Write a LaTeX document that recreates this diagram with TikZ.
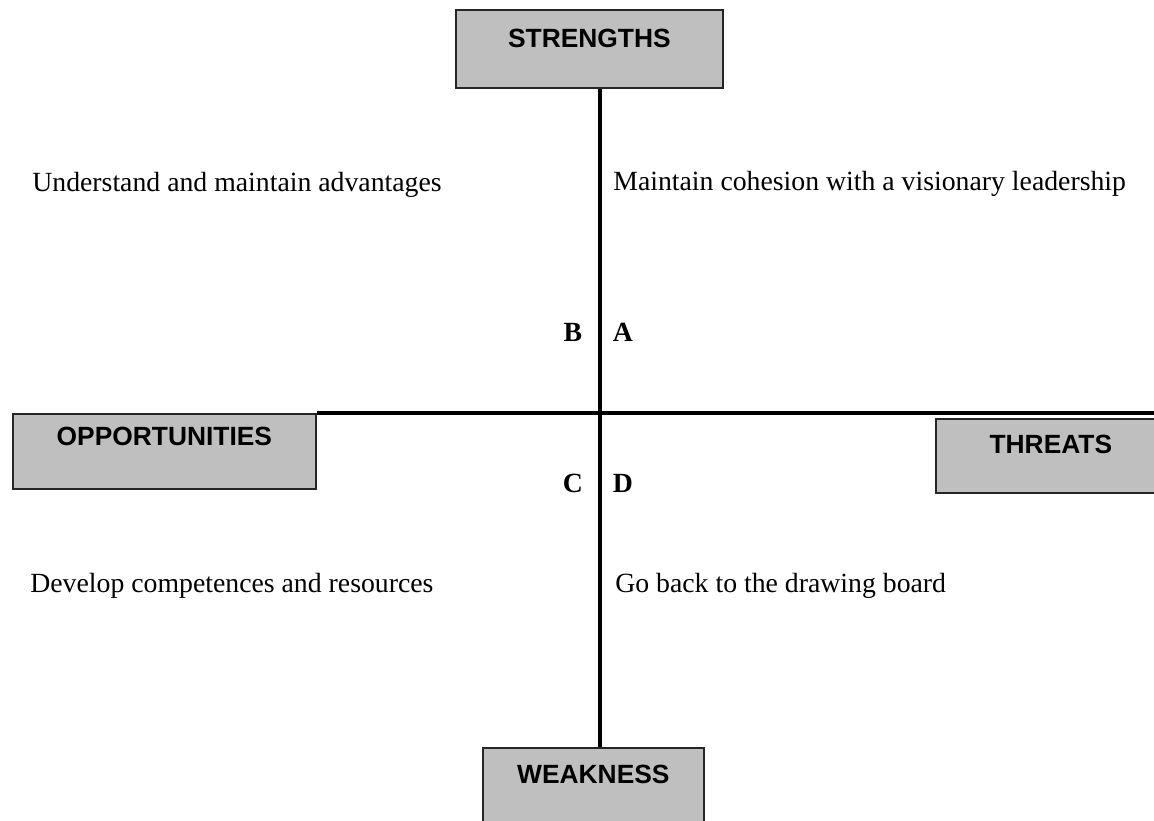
\documentclass[tikz,border=0pt]{standalone}
\usepackage{fontspec}
\setmainfont{Liberation Serif}
\setsansfont{Liberation Sans}

\begin{document}
\begin{tikzpicture}[x=0.02cm, y=-0.02cm,
	swotbox/.style={draw=black!85, line width=1pt, fill=black!25, anchor=north west, inner sep=0pt, font=\sffamily\bfseries\fontsize{15}{18}\selectfont},
	note/.style={anchor=base west, inner sep=0pt, font=\fontsize{15.8}{19}\selectfont},
	quad/.style={anchor=base, inner sep=0pt, font=\bfseries\fontsize{15.8}{19}\selectfont},
	axis/.style={line width=2.2pt}]
	\clip (0, 0) rectangle (1154, 821);
	\node [swotbox, minimum width=5.34cm, text height=0.76cm, text depth=0.80cm] (strengths) at (455, 9) {STRENGTHS};
	\node [swotbox, minimum width=6.06cm, text height=0.64cm, text depth=0.86cm] (opportunities) at (12, 413) {OPPORTUNITIES};
	\node [swotbox, minimum width=5.2cm, text height=0.70cm, text depth=0.78cm] (threats) at (935, 418) {\hspace*{-0.6cm}THREATS};
	\node [swotbox, minimum width=4.42cm, text height=0.72cm, text depth=0.88cm] (weakness) at (482, 747) {WEAKNESS};
	\coordinate (centre) at (600, 414);
	\coordinate (rightend) at (1160, 414);
	\draw [axis] (strengths.south -| centre) -- (weakness.north -| centre);
	\draw [axis] (opportunities.north east) -- (opportunities.north east -| rightend);
	\node [note] (advantages) at (32, 192) {Understand and maintain advantages};
	\node [note] (cohesion) at (613, 191) {Maintain cohesion with a visionary leadership};
	\node [note] (competences) at (30, 592) {Develop competences and resources};
	\node [note] (board) at (615, 592) {Go back to the drawing board};
	\node [quad] (qa) at (623, 341) {A};
	\node [quad] (qb) at (573, 341) {B};
	\node [quad] (qc) at (573, 492) {C};
	\node [quad] (qd) at (623, 492) {D};
\end{tikzpicture}
\end{document}
